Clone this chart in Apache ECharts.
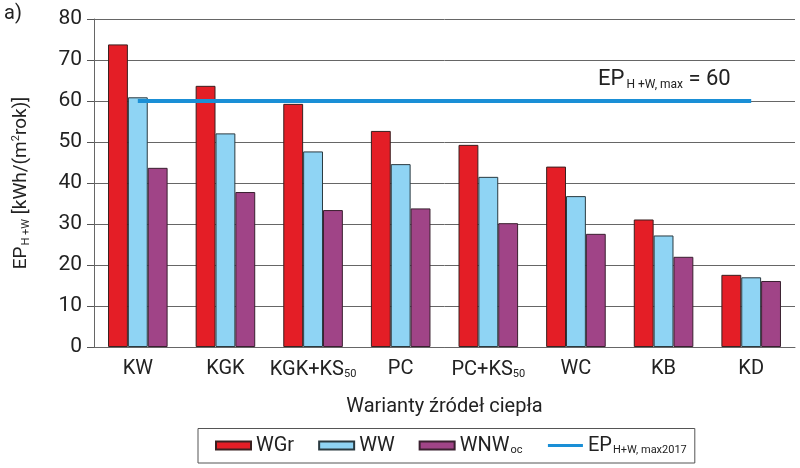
<!DOCTYPE html>
<html><head><meta charset="utf-8">
<script src="https://cdn.jsdelivr.net/npm/echarts@6/dist/echarts.min.js"></script>
<style>html,body{margin:0;padding:0;background:#fff}#c{width:800px;height:468px}</style>
</head><body><div id="c"></div>
<script>
const categories = ['KW', 'KGK', 'KGK+KS50', 'PC', 'PC+KS50', 'WC', 'KB', 'KD'];
const wgr = [73.8, 63.7, 59.3, 52.7, 49.3, 44.0, 31.1, 17.6];
const ww = [60.9, 52.1, 47.7, 44.6, 41.5, 36.8, 27.2, 17.0];
const wnw = [43.7, 37.8, 33.4, 33.8, 30.2, 27.6, 22.0, 16.1];
const epMax = [60, 60, 60, 60, 60, 60, 60, 60];
const yTicks = [0, 10, 20, 30, 40, 50, 60, 70, 80];

const FONT = "Roboto, 'Liberation Sans', sans-serif";
const chart = echarts.init(document.getElementById('c'), null, {renderer: 'canvas'});

function catLabel(v) {
  if (v === 'KGK+KS50') return '{n|KGK+KS}{s|50}';
  if (v === 'PC+KS50') return '{n|PC+KS}{s|50}';
  return '{n|' + v + '}';
}
const sub = {fontSize: 11, fontFamily: FONT, color: '#222', padding: [10, 0, 0, 0]};

chart.setOption({
  animation: false,
  textStyle: {fontFamily: FONT},
  grid: {left: 94, right: 5, top: 19, bottom: 121},
  graphic: [
    {type: 'text', left: 4, top: 4, style: {text: 'a)', fontSize: 20, fontFamily: FONT, fill: '#222'}},
    {type: 'text', left: 598, top: 68, z: 10, style: {
      text: '{n|EP}{s|H +W, max}{e| = 60}', fill: '#222',
      rich: {
        n: {fontSize: 22, fontFamily: FONT, fill: '#222'},
        s: {fontSize: 12, fontFamily: FONT, fill: '#222', padding: [12, 0, 0, 2]},
        e: {fontSize: 22, fontFamily: FONT, fill: '#222'}
      }}}
  ],
  legend: {
    bottom: 5, left: 198,
    itemWidth: 35, itemHeight: 8, itemGap: 24,
    borderColor: '#555', borderWidth: 1, padding: [7, 8, 7, 17],
    data: [
      {name: 'WGr', icon: 'rect'},
      {name: 'WW', icon: 'rect'},
      {name: 'WNWoc', icon: 'rect'},
      {name: 'EPmax2017', itemStyle: {opacity: 0}, lineStyle: {width: 3}}
    ],
    formatter: function (n) {
      if (n === 'WNWoc') return '{n|WNW}{s|oc}';
      if (n === 'EPmax2017') return '{n|EP}{s|H+W, max2017}';
      return '{n|' + n + '}';
    },
    textStyle: {
      rich: {
        n: {fontSize: 20, fontFamily: FONT, color: '#222'},
        s: {fontSize: 11, fontFamily: FONT, color: '#222', padding: [10, 0, 0, 1]}
      }
    }
  },
  xAxis: {
    type: 'category', data: categories,
    axisLine: {lineStyle: {color: '#666'}},
    axisTick: {length: 7, lineStyle: {color: '#555'}},
    axisLabel: {margin: 12, interval: 0, formatter: catLabel, rich: {
      n: {fontSize: 20, fontFamily: FONT, color: '#222'}, s: sub}},
    name: 'Warianty źródeł ciepła', nameLocation: 'middle', nameGap: 50,
    nameTextStyle: {fontSize: 20, fontFamily: FONT, color: '#222'}
  },
  yAxis: {
    type: 'value', min: 0, max: 80, interval: 10,
    axisLine: {show: true, lineStyle: {color: '#666'}},
    axisTick: {show: true, length: 7, lineStyle: {color: '#555'}},
    splitLine: {lineStyle: {color: '#666', width: 1}},
    axisLabel: {margin: 12, fontSize: 21, fontFamily: FONT, color: '#222',
      formatter: function (v) { return yTicks.indexOf(v) >= 0 ? String(v) : ''; }},
    name: '{n|EP}{s|H +W}{n| [kWh/(m}{p|2}{n|rok)]}',
    nameLocation: 'middle', nameGap: 62, nameRotate: 90,
    nameTextStyle: {rich: {
      n: {fontSize: 19, fontFamily: FONT, color: '#222'},
      s: {fontSize: 11, fontFamily: FONT, color: '#222', padding: [10, 0, 0, 1]},
      p: {fontSize: 11, fontFamily: FONT, color: '#222', padding: [0, 0, 10, 0]}
    }}
  },
  series: [
    {name: 'WGr', type: 'bar', data: wgr, barGap: '0%', barCategoryGap: '32%',
      itemStyle: {color: '#e41e26', borderColor: '#3a2020', borderWidth: 1}},
    {name: 'WW', type: 'bar', data: ww,
      itemStyle: {color: '#8fd4f4', borderColor: '#2a3a40', borderWidth: 1}},
    {name: 'WNWoc', type: 'bar', data: wnw,
      itemStyle: {color: '#a04487', borderColor: '#3a2030', borderWidth: 1}},
    {name: 'EPmax2017', type: 'line', data: epMax, symbol: 'none', z: 5,
      lineStyle: {color: '#1a8fd6', width: 4}, itemStyle: {color: '#1a8fd6'}}
  ]
});
</script></body></html>
